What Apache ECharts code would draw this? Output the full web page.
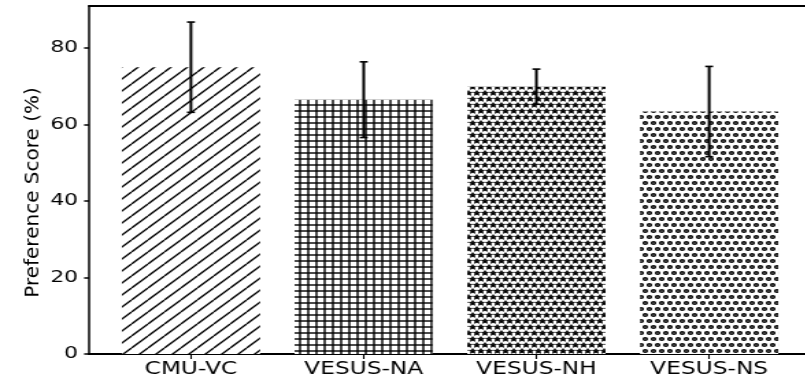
<!DOCTYPE html>
<html>
<head>
<meta charset="utf-8">
<script src="https://cdn.jsdelivr.net/npm/echarts@6/dist/echarts.min.js"></script>
<style>
html, body { margin: 0; padding: 0; background: #fff; overflow: hidden; }
#wrap { width: 805px; height: 379px; overflow: hidden; position: relative; background: #fff; }
#chart { width: 600px; height: 379px; transform: scaleX(1.37); transform-origin: 0 0; }
</style>
</head>
<body>
<div id="wrap"><div id="chart"></div></div>
<script>
// ---- data ----
const categories = ['CMU-VC', 'VESUS-NA', 'VESUS-NH', 'VESUS-NS'];
const scores = [75.0, 66.5, 69.9, 63.4];
const errors = [11.8, 9.9, 4.6, 11.8];
const yTicks = [0, 20, 40, 60, 80];
const yLabel = 'Preference Score (%)';

// ---- hatch patterns (styling only) ----
const SX = 1.37;
function tile(w, h, draw) {
  const c = document.createElement('canvas');
  c.width = w; c.height = h;
  const g = c.getContext('2d');
  g.fillStyle = '#fff'; g.fillRect(0, 0, w, h);
  g.strokeStyle = '#000'; g.fillStyle = '#000'; g.lineWidth = 1.4;
  draw(g);
  return { image: c, repeat: 'repeat' };
}
const diag = tile(12, 12, g => {
  g.beginPath();
  for (const k of [-12, 0, 12]) { g.moveTo(k, 12); g.lineTo(k + 12, 0); }
  g.stroke();
});
const grid = tile(6, 6, g => {
  g.fillRect(2.3, 0, 1.4, 6);
  g.fillRect(0, 2.3, 6, 1.4);
});
function star(g, cx, cy, R, r) {
  g.beginPath();
  for (let i = 0; i < 10; i++) {
    const a = -Math.PI / 2 + i * Math.PI / 5;
    const rr = i % 2 === 0 ? R : r;
    const px = cx + rr * Math.cos(a), py = cy + rr * Math.sin(a);
    if (i === 0) g.moveTo(px, py); else g.lineTo(px, py);
  }
  g.closePath();
  g.fill(); g.stroke();
}
const stars = tile(6, 12, g => {
  g.lineJoin = 'miter'; g.lineWidth = 0.8;
  for (const [cx, cy] of [[3, 3.2], [0, 9.2], [6, 9.2]]) star(g, cx, cy, 2.6, 1.1);
});
const rings = tile(6, 12, g => {
  g.lineWidth = 1.5;
  for (const [cx, cy] of [[3, 3], [0, 9], [6, 9]]) {
    g.beginPath(); g.arc(cx, cy, 1.3, 0, Math.PI * 2); g.stroke();
  }
});
const patterns = [diag, grid, stars, rings];

const FONT = '"DejaVu Sans", sans-serif';
const chart = echarts.init(document.getElementById('chart'), null, { renderer: 'canvas', devicePixelRatio: 1 });

const option = {
  animation: false,
  backgroundColor: '#fff',
  grid: { left: 65, right: 8, top: 6, bottom: 25 },
  xAxis: [{
    type: 'value', min: -0.59, max: 3.59, position: 'bottom',
    splitLine: { show: false },
    axisLine: { show: true, onZero: false, lineStyle: { color: '#000', width: 2 } },
    axisTick: { show: true, customValues: [0, 1, 2, 3], length: 5, lineStyle: { color: '#000', width: 1.1 } },
    axisLabel: {
      customValues: [0, 1, 2, 3],
      formatter: v => categories[Math.round(v)],
      color: '#000', fontSize: 17, fontFamily: FONT, margin: 7
    }
  }, {
    type: 'value', min: -0.59, max: 3.59, position: 'top',
    splitLine: { show: false },
    axisLine: { show: true, onZero: false, lineStyle: { color: '#000', width: 2 } },
    axisTick: { show: false }, axisLabel: { show: false }
  }],
  yAxis: {
    type: 'value', min: 0, max: 91, position: 'left',
    splitLine: { show: false },
    axisLine: { show: true, onZero: false, lineStyle: { color: '#000', width: 1.5 } },
    axisTick: { show: true, customValues: yTicks, length: 3.6, lineStyle: { color: '#000', width: 1.5 } },
    axisLabel: { customValues: yTicks, color: '#000', fontSize: 16, fontFamily: FONT, margin: 8 }
  },
  graphic: [{
    type: 'text', x: 24.5, y: 192.5, rotation: Math.PI / 2, scaleY: 1 / SX,
    style: { text: yLabel, fill: '#000', fontSize: 20, fontFamily: FONT, align: 'center', verticalAlign: 'middle' }
  }],
  series: [{
    type: 'bar', xAxisIndex: 0, yAxisIndex: 0,
    barWidth: '80%',
    data: categories.map((c, i) => ({ value: [i, scores[i]], itemStyle: { color: patterns[i] } }))
  }, {
    type: 'custom', xAxisIndex: 0, yAxisIndex: 0,
    data: categories.map((c, i) => [i, scores[i], errors[i]]),
    encode: { x: 0, y: 1 },
    renderItem: function (params, api) {
      const x = api.value(0), y = api.value(1), e = api.value(2);
      const t = api.coord([x, y + e]);
      const b = api.coord([x, y - e]);
      const cw = 2.9;
      return {
        type: 'group',
        children: [
          { type: 'line', shape: { x1: t[0], y1: t[1], x2: b[0], y2: b[1] }, style: { stroke: '#000', lineWidth: 2 } },
          { type: 'line', shape: { x1: t[0] - cw, y1: t[1], x2: t[0] + cw, y2: t[1] }, style: { stroke: '#000', lineWidth: 1.6 } },
          { type: 'line', shape: { x1: b[0] - cw, y1: b[1], x2: b[0] + cw, y2: b[1] }, style: { stroke: '#000', lineWidth: 1.6 } }
        ]
      };
    },
    z: 5
  }]
};
chart.setOption(option);
</script>
</body>
</html>
